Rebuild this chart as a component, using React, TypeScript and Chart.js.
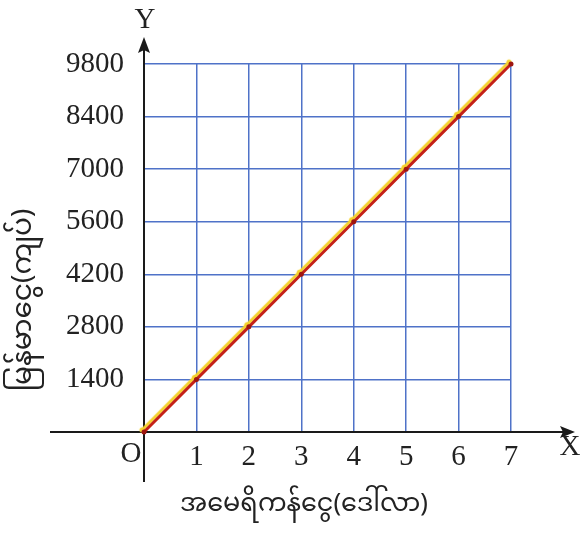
import React, { useEffect, useRef } from "react";
import { Chart, registerables } from "chart.js";

Chart.register(...registerables);

const dollars = [0, 1, 2, 3, 4, 5, 6, 7];
const kyats = [0, 1400, 2800, 4200, 5600, 7000, 8400, 9800];
const yTicks = [1400, 2800, 4200, 5600, 7000, 8400, 9800];
const xTitle = "အမေရိကန်ငွေ(ဒေါ်လာ)";
const yTitle = "မြန်မာငွေ(ကျပ်)";

const W = 587;
const H = 537;
const SERIF = '"Liberation Serif", "DejaVu Serif", serif';
const MYANMAR = '"Noto Sans Myanmar", "Padauk", "Myanmar Text", "Noto Sans", sans-serif';

const axesPlugin = {
  id: "axesArrows",
  beforeDatasetsDraw(chart: any) {
    const ctx = chart.ctx;
    const xs = chart.scales.x;
    const ys = chart.scales.y;
    const ox = xs.getPixelForValue(0);
    const oy = ys.getPixelForValue(0);
    ctx.save();
    ctx.strokeStyle = "#1a1a1a";
    ctx.fillStyle = "#1a1a1a";
    ctx.lineWidth = 2;
    ctx.beginPath();
    ctx.moveTo(50, oy);
    ctx.lineTo(566, oy);
    ctx.stroke();
    ctx.beginPath();
    ctx.moveTo(575, oy);
    ctx.lineTo(560, oy - 6);
    ctx.lineTo(563, oy);
    ctx.lineTo(560, oy + 6);
    ctx.closePath();
    ctx.fill();
    ctx.beginPath();
    ctx.moveTo(ox, 482);
    ctx.lineTo(ox, 46);
    ctx.stroke();
    ctx.beginPath();
    ctx.moveTo(ox, 37);
    ctx.lineTo(ox - 6, 53);
    ctx.lineTo(ox, 50);
    ctx.lineTo(ox + 6, 53);
    ctx.closePath();
    ctx.fill();
    ctx.restore();
  },
  beforeDatasetDraw(chart: any) {
    const ctx = chart.ctx;
    ctx.save();
    ctx.shadowColor = "#f5d22c";
    ctx.shadowOffsetX = -2;
    ctx.shadowOffsetY = -2;
    ctx.shadowBlur = 1;
  },
  afterDatasetDraw(chart: any) {
    chart.ctx.restore();
  },
  afterDraw(chart: any) {
    const ctx = chart.ctx;
    const xs = chart.scales.x;
    const ys = chart.scales.y;
    const ox = xs.getPixelForValue(0);
    const oy = ys.getPixelForValue(0);
    ctx.save();
    ctx.fillStyle = "#222";
    ctx.textAlign = "center";
    ctx.textBaseline = "middle";
    ctx.font = `29px ${SERIF}`;
    ctx.fillText("Y", ox + 1, 20);
    ctx.fillText("X", 570, 447);
    ctx.fillText("O", ox - 13, oy + 22);
    ctx.font = `25.5px ${MYANMAR}`;
    ctx.fillText(xTitle, 304, 508);
    ctx.translate(28, 300);
    ctx.rotate(-Math.PI / 2);
    ctx.font = `28px ${MYANMAR}`;
    ctx.fillText(yTitle, 0, 0);
    ctx.restore();
  },
};

export default function App() {
  const ref = useRef<HTMLCanvasElement | null>(null);
  useEffect(() => {
    if (!ref.current) return;
    const chart = new Chart(ref.current, {
      type: "line",
      data: {
        datasets: [
          {
            data: dollars.map((d, i) => ({ x: d, y: kyats[i] })),
            borderColor: "#c42117",
            borderWidth: 3,
            pointRadius: 2.5,
            pointBackgroundColor: "#9e1510",
            pointBorderWidth: 0,
            clip: 12,
            tension: 0,
          },
        ],
      },
      options: {
        responsive: false,
        animation: false,
        layout: { padding: { top: 64, right: 76, left: 0, bottom: 0 } },
        plugins: { legend: { display: false }, tooltip: { enabled: false } },
        scales: {
          x: {
            type: "linear",
            min: 0,
            max: 7,
            afterFit: (s: any) => {
              s.height = 105;
            },
            ticks: {
              stepSize: 1,
              padding: 8,
              color: "#222",
              font: { family: SERIF, size: 29 },
              callback: (v: any) => (v === 0 ? "" : String(v)),
            },
            grid: { color: "#4f72c8", lineWidth: 1.5, drawTicks: false },
            border: { display: false },
          },
          y: {
            type: "linear",
            min: 0,
            max: 9800,
            afterFit: (s: any) => {
              s.width = 144;
            },
            afterBuildTicks: (s: any) => {
              s.ticks = [0, ...yTicks].map((v) => ({ value: v }));
            },
            ticks: {
              padding: 20,
              color: "#222",
              font: { family: SERIF, size: 29 },
              callback: (v: any) => (v === 0 ? "" : String(v)),
            },
            grid: { color: "#4f72c8", lineWidth: 1.5, drawTicks: false },
            border: { display: false },
          },
        },
      },
      plugins: [axesPlugin],
    });
    return () => chart.destroy();
  }, []);
  return (
    <div style={{ position: "fixed", left: 0, top: 0, width: W, height: H, background: "#fff" }}>
      <canvas ref={ref} width={W} height={H} style={{ display: "block" }} />
    </div>
  );
}
